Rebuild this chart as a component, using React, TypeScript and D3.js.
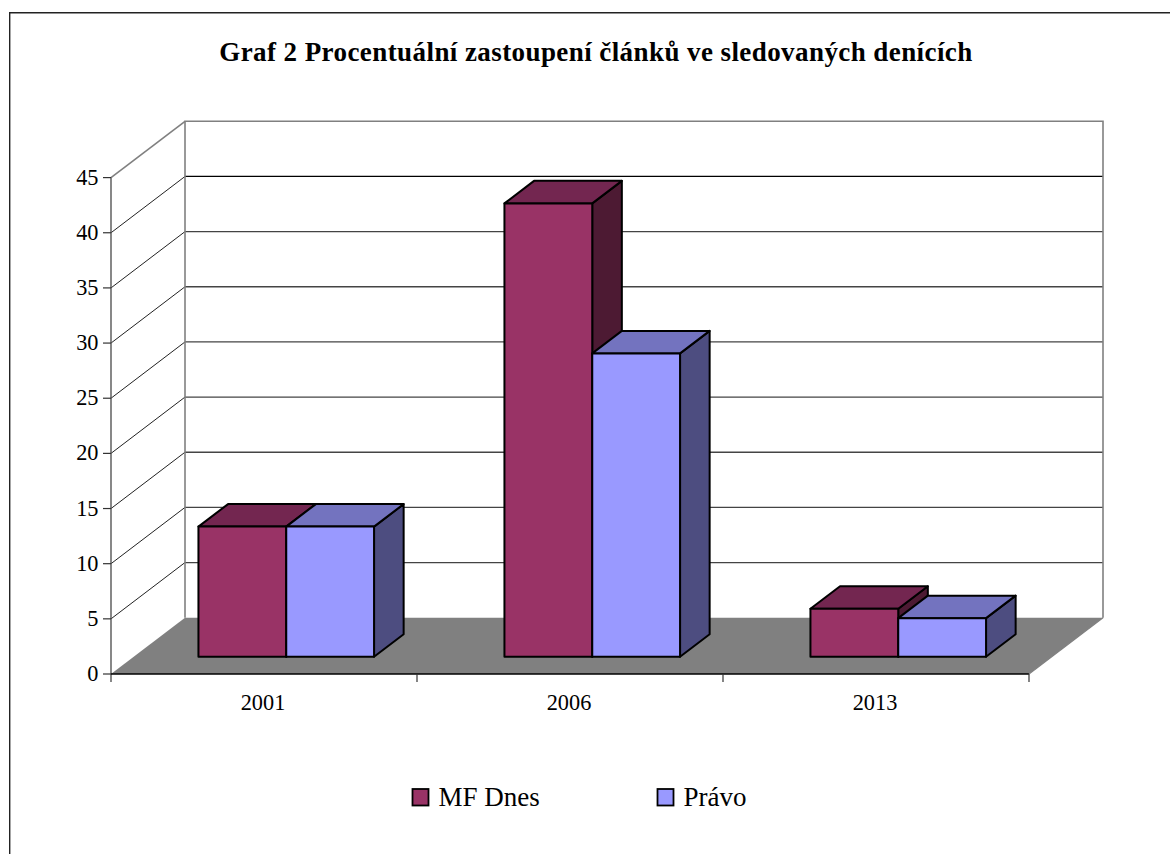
import React from "react";
import * as d3 from "d3";

const title = "Graf 2 Procentuální zastoupení článků ve sledovaných denících";
const categories = ["2001", "2006", "2013"];
const seriesNames = ["MF Dnes", "Právo"];
const mfDnes = [11.8, 41.1, 4.35];
const pravo = [11.8, 27.5, 3.5];
const yTicks = [0, 5, 10, 15, 20, 25, 30, 35, 40, 45];
const frontColors = ["#993366", "#9999FF"];
const topColors = ["#732650", "#7373BF"];
const sideColors = ["#4D1A33", "#4D4D80"];

const FONT = "'Liberation Serif', 'Times New Roman', serif";
const depthX = 74;
const depthY = 56.3;
const barStart = 0.306;
const barDepth = 0.4;

export default function App() {
  const x = d3.scaleBand<string>().domain(categories).range([111, 1029]);
  const y = d3.scaleLinear().domain([0, 45]).range([674, 177.6]);
  const step = x.bandwidth();
  const barW = 87.8;
  const pad = (step - 2 * barW) / 2;
  const px = (v: number, d: number) => v + d * depthX;
  const py = (v: number, d: number) => v - d * depthY;
  const pts = (a: number[][]) => a.map((p) => p.join(",")).join(" ");
  const series = [mfDnes, pravo];
  const xEnd = 1029;

  return (
    <svg width={1170} height={854} style={{ position: "absolute", left: 0, top: 0, background: "#fff" }} fontFamily={FONT}>
      <path d="M9.7,854 V12.7 H1170" fill="none" stroke="#222" strokeWidth={1.4} />
      <text x={596} y={61} textAnchor="middle" fontWeight="bold" fontSize={27} letterSpacing={0.42} fill="#000">{title}</text>

      {/* floor and walls */}
      <polygon
        points={pts([
          [111, y(0)],
          [px(111, 1), py(y(0), 1)],
          [px(xEnd, 1), py(y(0), 1)],
          [xEnd, y(0)],
        ])}
        fill="#808080"
      />
      {yTicks.slice(1).map((t) => (
        <g key={t}>
          {t < 45 && (
            <line x1={111} x2={px(111, 1)} y1={y(t)} y2={py(y(t), 1)} stroke="#222" strokeWidth={1} />
          )}
          {t < 45 && (
            <line x1={px(111, 1)} x2={px(xEnd, 1)} y1={py(y(t), 1)} y2={py(y(t), 1)} stroke={t === 40 ? "#000" : "#444"} strokeWidth={1.3} />
          )}
        </g>
      ))}
      <line x1={111} x2={px(111, 1)} y1={y(45)} y2={py(y(45), 1)} stroke="#808080" strokeWidth={1.6} />
      <path
        d={`M${px(111, 1)},${py(y(0), 1)} V${py(y(45), 1)} H${px(xEnd, 1)} V${py(y(0), 1)}`}
        fill="none"
        stroke="#808080"
        strokeWidth={1.6}
      />

      {/* bars */}
      {categories.map((c, i) => (
        <g key={c}>
          {series.map((vals, s) => {
            const x0 = (x(c) as number) + pad + barStart * depthX - 0.4 + s * barW;
            const x1 = x0 + barW;
            const yb = py(y(0), barStart);
            const yt = py(y(vals[i]), barStart);
            const sty = { stroke: "#000", strokeWidth: 2, strokeLinejoin: "round" as const };
            return (
              <g key={s}>
                <polygon
                  points={pts([[x1, yt], [px(x1, barDepth), py(yt, barDepth)], [px(x1, barDepth), py(yb, barDepth)], [x1, yb]])}
                  fill={sideColors[s]}
                  {...sty}
                />
                <polygon
                  points={pts([[x0, yt], [px(x0, barDepth), py(yt, barDepth)], [px(x1, barDepth), py(yt, barDepth)], [x1, yt]])}
                  fill={topColors[s]}
                  {...sty}
                />
                <rect x={x0} y={yt} width={barW} height={yb - yt} fill={frontColors[s]} {...sty} />
              </g>
            );
          })}
        </g>
      ))}

      {/* axes */}
      <line x1={111} x2={111} y1={y(45)} y2={y(0) + 8} stroke="#555" strokeWidth={1.4} />
      <line x1={111} x2={xEnd} y1={y(0)} y2={y(0)} stroke="#000" strokeWidth={1.3} />
      <line x1={xEnd} x2={px(xEnd, 1)} y1={y(0)} y2={py(y(0), 1)} stroke="#808080" strokeWidth={1.2} />
      {yTicks.map((t) => (
        <g key={t}>
          <line x1={103} x2={111} y1={y(t)} y2={y(t)} stroke="#333" strokeWidth={1.2} />
          <text x={98.5} y={y(t) + 7} textAnchor="end" fontSize={22.3} fill="#000">{t}</text>
        </g>
      ))}
      {categories.map((c) => (
        <g key={c}>
          <line x1={(x(c) as number) + step} x2={(x(c) as number) + step} y1={y(0)} y2={y(0) + 8} stroke="#333" strokeWidth={1.2} />
          <text x={(x(c) as number) + step / 2 - 1} y={709.5} textAnchor="middle" fontSize={22.3} fill="#000">{c}</text>
        </g>
      ))}

      {/* legend */}
      {seriesNames.map((n, s) => {
        const lx = [412.5, 657.5][s];
        return (
          <g key={n}>
            <rect x={lx} y={789} width={16} height={16.5} fill={frontColors[s]} stroke="#000" strokeWidth={1.8} />
            <text x={lx + 26} y={806} fontSize={27} fill="#000">{n}</text>
          </g>
        );
      })}
    </svg>
  );
}
